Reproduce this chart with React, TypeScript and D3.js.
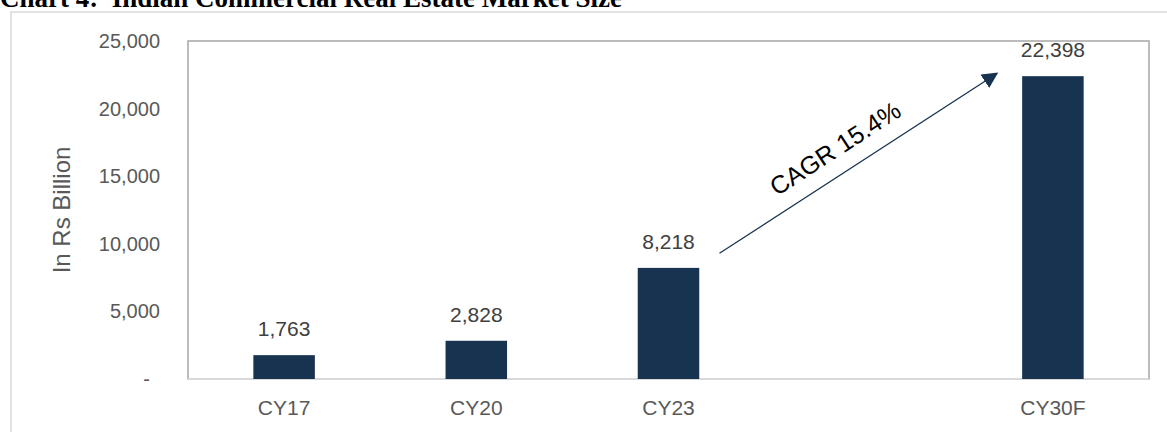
import React, { useRef, useEffect } from "react";
import * as d3 from "d3";

// chart values
const categories = ["CY17", "CY20", "CY23", "", "CY30F"];
const values: (number | null)[] = [1763, 2828, 8218, null, 22398];
const yTicks = [0, 5000, 10000, 15000, 20000, 25000];
const cagrLabel = "CAGR 15.4%";
const cagrFrom = { cat: "CY23", value: 9300 };
const cagrTo = { cat: "CY30F", value: 22600 };

const App = () => {
  const ref = useRef<SVGSVGElement>(null);
  const width = 1167;
  const height = 432;

  useEffect(() => {
    const svg = d3.select(ref.current);
    svg.selectAll("*").remove();

    const font = "'Liberation Sans', Arial, sans-serif";
    const margin = { top: 41, right: 18, bottom: 53, left: 188 };
    const plotW = width - margin.left - margin.right;
    const plotH = height - margin.top - margin.bottom;

    svg.attr("width", width).attr("height", height);

    // title (cut at top like the source)
    svg
      .append("text")
      .attr("x", 0)
      .attr("y", 7)
      .style("font-family", "'Liberation Serif', 'Times New Roman', serif")
      .style("font-weight", "bold")
      .style("font-size", "27px")
      .attr("fill", "#000")
      .attr("xml:space", "preserve")
      .text("Chart 4:  Indian Commercial Real Estate Market Size");

    // outer frame
    svg
      .append("path")
      .attr("d", `M11,${height + 2}V12H${width + 2}`)
      .attr("fill", "none")
      .attr("stroke", "#d9d9d9")
      .attr("stroke-width", 1.5);

    const g = svg
      .append("g")
      .attr("transform", `translate(${margin.left},${margin.top})`);

    const x = d3.scaleBand().domain(categories).range([0, plotW]).paddingInner(0.68).paddingOuter(0.34);
    const y = d3.scaleLinear().domain([0, 25000]).range([plotH, 0]);

    // plot area border
    g.append("rect")
      .attr("x", 0)
      .attr("y", 0)
      .attr("width", plotW)
      .attr("height", plotH)
      .attr("fill", "none")
      .attr("stroke", "#a6a6a6")
      .attr("stroke-width", 1.5);

    g.append("line")
      .attr("x1", 0)
      .attr("x2", plotW)
      .attr("y1", plotH)
      .attr("y2", plotH)
      .attr("stroke", "#d9d9d9")
      .attr("stroke-width", 2);

    // y tick labels
    g.selectAll(".ytick")
      .data(yTicks)
      .enter()
      .append("text")
      .attr("x", (d) => (d === 0 ? -38 : -28))
      .attr("y", (d) => y(d))
      .attr("dy", "0.35em")
      .attr("text-anchor", "end")
      .style("font-family", font)
      .style("font-size", "20px")
      .attr("fill", "#595959")
      .text((d) => (d === 0 ? "-" : d3.format(",")(d)));

    // y axis title
    svg
      .append("text")
      .attr("transform", `translate(70,210) rotate(-90)`)
      .attr("text-anchor", "middle")
      .style("font-family", font)
      .style("font-size", "24px")
      .attr("fill", "#595959")
      .text("In Rs Billion");

    const data = categories
      .map((c, i) => ({ cat: c, value: values[i] }))
      .filter((d) => d.value !== null) as { cat: string; value: number }[];

    g.selectAll(".bar")
      .data(data)
      .enter()
      .append("rect")
      .attr("x", (d) => x(d.cat)!)
      .attr("y", (d) => y(d.value))
      .attr("width", x.bandwidth())
      .attr("height", (d) => plotH - y(d.value))
      .attr("fill", "#173350");

    g.selectAll(".vlabel")
      .data(data)
      .enter()
      .append("text")
      .attr("x", (d) => x(d.cat)! + x.bandwidth() / 2)
      .attr("y", (d) => y(d.value) - 19)
      .attr("text-anchor", "middle")
      .style("font-family", font)
      .style("font-size", "21px")
      .attr("fill", "#404040")
      .text((d) => d3.format(",")(d.value));

    g.selectAll(".xlabel")
      .data(data)
      .enter()
      .append("text")
      .attr("x", (d) => x(d.cat)! + x.bandwidth() / 2)
      .attr("y", plotH + 36)
      .attr("text-anchor", "middle")
      .style("font-family", font)
      .style("font-size", "21px")
      .attr("fill", "#595959")
      .text((d) => d.cat);

    // CAGR arrow
    const cx = (c: string) => x(c)! + x.bandwidth() / 2;
    const x1 = cx(cagrFrom.cat) + 51;
    const y1 = y(cagrFrom.value);
    const x2 = cx(cagrTo.cat) - 56;
    const y2 = y(cagrTo.value);

    svg
      .append("defs")
      .append("marker")
      .attr("id", "arrowhead")
      .attr("viewBox", "0 0 10 10")
      .attr("refX", 9)
      .attr("refY", 5)
      .attr("markerWidth", 16)
      .attr("markerHeight", 16)
      .attr("markerUnits", "userSpaceOnUse")
      .attr("orient", "auto")
      .append("path")
      .attr("d", "M0,0L10,5L0,10Z")
      .attr("fill", "#173350");

    g.append("line")
      .attr("x1", x1)
      .attr("y1", y1)
      .attr("x2", x2)
      .attr("y2", y2)
      .attr("stroke", "#173350")
      .attr("stroke-width", 1.3)
      .attr("marker-end", "url(#arrowhead)");

    const angle = (Math.atan2(y2 - y1, x2 - x1) * 180) / Math.PI;
    const mx = (x1 + x2) / 2 - 23;
    const my = (y1 + y2) / 2 - 15;
    g.append("text")
      .attr("transform", `translate(${mx},${my}) rotate(${angle})`)
      .attr("text-anchor", "middle")
      .attr("dy", "0.35em")
      .style("font-family", font)
      .style("font-size", "25px")
      .attr("fill", "#000")
      .text(cagrLabel);
  }, []);

  return (
    <svg
      ref={ref}
      style={{ position: "absolute", left: 0, top: 0, background: "#fff" }}
    ></svg>
  );
};

export default App;
